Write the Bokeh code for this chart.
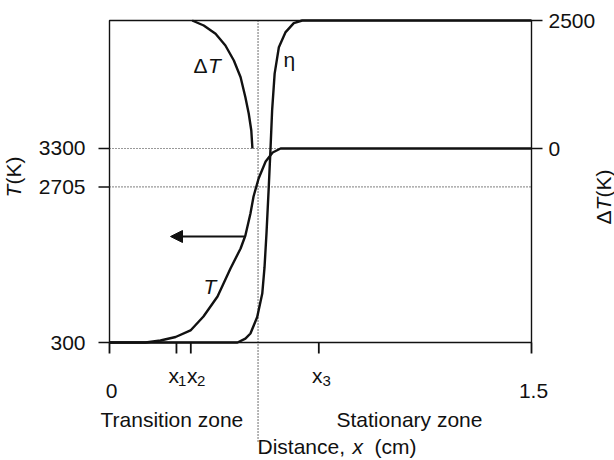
import numpy as np
from bokeh.plotting import figure
from bokeh.models import Range1d, Arrow, NormalHead, Label
from bokeh.embed import file_html
from bokeh.resources import INLINE

# ---- data -------------------------------------------------------------
# temperature profile T(x), K
x_T = [0.0, 0.128, 0.181, 0.235, 0.288, 0.334, 0.384, 0.430, 0.466, 0.483,
       0.501, 0.512, 0.530, 0.555, 0.580, 0.608, 0.643, 1.5]
T_K = [300, 300, 331, 385, 486, 702, 1011, 1444, 1754, 1955,
       2295, 2558, 2836, 3099, 3238, 3300, 3300, 3300]

# transformed fraction eta(x), 0..1
x_eta = [0.0, 0.455, 0.483, 0.501, 0.525, 0.543, 0.551, 0.558, 0.566, 0.572,
         0.578, 0.587, 0.602, 0.626, 0.655, 0.685, 1.5]
eta = [0.0, 0.0, 0.012, 0.028, 0.079, 0.152, 0.233, 0.339, 0.481, 0.596,
       0.720, 0.835, 0.917, 0.964, 0.992, 1.0, 1.0]

# undercooling dT(x), K
x_dT = [0.294, 0.335, 0.377, 0.412, 0.442, 0.466, 0.483, 0.495, 0.504, 0.508]
dT_K = [2500, 2402, 2240, 2012, 1719, 1393, 1002, 678, 352, 0]

# axis ticks
T_ticks = [300, 2705, 3300]
T_tick_labels = ["300", "2705", "3300"]
dT_ticks = [0, 2500]
dT_tick_labels = ["0", "2500"]
x_ticks = [0.0, 0.238, 0.289, 0.744, 1.5]        # 0, x1, x2, x3, 1.5
x_end_ticks = [0.0, 1.5]
x_end_labels = ["0", "1.5"]
x_front = 0.528                                   # zone boundary, cm
T_guides = [3300, 2705]

# ---- layout: the frame covers the whole canvas, the plot box sits inside
W, H = 614, 460
BOX_L, BOX_R, BOX_T, BOX_B = 109, 531, 20, 342   # plot box edges, px
X_LO, X_HI = 0.0, 1.5
T_LO, T_HI = 300.0, 5279.0
DT_LO, DT_HI = -3789.0, 2500.0
ETA_LO, ETA_HI = 0.0, 1.0


def full_range(lo, hi, a, b, total, flip=False):
    """Extend [lo, hi] (drawn between px a..b) to the whole canvas."""
    s = (hi - lo) / (b - a)
    if flip:   # vertical: px grows downwards
        return Range1d(lo - (total - b) * s, hi + a * s)
    return Range1d(lo - a * s, hi + (total - b) * s)


SX = (X_HI - X_LO) / (BOX_R - BOX_L)
SY = (T_HI - T_LO) / (BOX_B - BOX_T)


def cx(px):
    return X_LO + (px - BOX_L) * SX


def cy(py):
    return T_LO + (BOX_B - py) * SY


FONT = "Liberation Sans"
INK = "#111111"
FS = "21px"

p = figure(width=W, height=H, title=None, toolbar_location=None,
           output_backend="svg",
           x_range=full_range(X_LO, X_HI, BOX_L, BOX_R, W),
           y_range=full_range(T_LO, T_HI, BOX_T, BOX_B, H, flip=True),
           x_axis_location=None, y_axis_location=None,
           min_border=0, min_border_left=0, min_border_right=0,
           min_border_top=0, min_border_bottom=0)
p.extra_y_ranges = {
    "dT": full_range(DT_LO, DT_HI, BOX_T, BOX_B, H, flip=True),
    "eta": full_range(ETA_LO, ETA_HI, BOX_T, BOX_B, H, flip=True),
}
p.grid.visible = False
p.outline_line_color = None
p.background_fill_color = "white"
p.border_fill_color = "white"

TICK = 11  # px

# ---- axes: box, ticks ------------------------------------------------
p.quad(left=[X_LO], right=[X_HI], bottom=[T_LO], top=[T_HI],
       fill_color=None, line_color=INK, line_width=1.4)

# distance ticks (outward, below the box)
p.segment(x0=x_ticks, x1=x_ticks, y0=[T_LO] * len(x_ticks),
          y1=[T_LO - TICK * SY] * len(x_ticks),
          line_color=INK, line_width=1.8)
# temperature ticks (left)
p.segment(x0=[X_LO] * len(T_ticks), x1=[X_LO - TICK * SX] * len(T_ticks),
          y0=T_ticks, y1=T_ticks, line_color=INK, line_width=1.6)
# undercooling ticks (right)
p.segment(x0=[X_HI] * len(dT_ticks), x1=[X_HI + TICK * SX] * len(dT_ticks),
          y0=dT_ticks, y1=dT_ticks, y_range_name="dT",
          line_color=INK, line_width=1.4)

# ---- guide lines -------------------------------------------------------
p.segment(x0=[X_LO] * len(T_guides), x1=[X_HI] * len(T_guides),
          y0=T_guides, y1=T_guides, line_color="#333333",
          line_width=1.2, line_dash="1 2")
p.segment(x0=[x_front], x1=[x_front], y0=[T_HI], y1=[cy(442)],
          line_color="#222222", line_width=1.3, line_dash="1 2")

# ---- curves ------------------------------------------------------------
p.line(x_T, T_K, line_color=INK, line_width=2.4)
p.line(x_eta, eta, y_range_name="eta", line_color=INK, line_width=2.4)
p.line(x_dT, dT_K, y_range_name="dT", line_color=INK, line_width=2.4)

p.add_layout(Arrow(end=NormalHead(size=12, fill_color=INK, line_color=INK),
                   x_start=cx(243.5), y_start=cy(236),
                   x_end=cx(170), y_end=cy(236),
                   line_color=INK, line_width=2))


# ---- text --------------------------------------------------------------
def lab(text, x, y, size=FS, style="normal", align="left", angle=0.0,
        y_range_name="default"):
    p.add_layout(Label(x=x, y=y, text=text, text_font=FONT,
                       text_font_size=size, text_font_style=style,
                       text_color=INK, text_align=align,
                       text_baseline="middle", angle=angle,
                       y_range_name=y_range_name))


# tick labels
for t, s in zip(T_ticks, T_tick_labels):
    lab(s, cx(85), t, align="right")
for t, s in zip(dT_ticks, dT_tick_labels):
    lab(s, cx(548), t, y_range_name="dT")
for t, s in zip(x_end_ticks, x_end_labels):
    lab(s, t + 2 * SX, cy(390.5), align="center")

# x1, x2, x3 marks
for xl, sub, xs in [(168, "1", 177.5), (186.5, "2", 196.5), (311.5, "3", 322)]:
    lab("x", cx(xl), cy(374.5))
    lab(sub, cx(xs), cy(380.5), size="15px")

# curve names
lab("\u0394", cx(193), cy(64.5))
lab("T", cx(207.5), cy(64.5), style="italic")
lab("\u03b7", cx(283), cy(58.5))
lab("T", cx(203), cy(285.5), style="italic")

# axis titles (rotated, reading upwards)
lab("T", cx(13), cy(197), style="italic", angle=np.pi / 2)
lab("(K)", cx(13), cy(184), angle=np.pi / 2)
lab("\u0394", cx(603), cy(224), angle=np.pi / 2)
lab("T", cx(603), cy(210), style="italic", angle=np.pi / 2)
lab("(K)", cx(603), cy(197), angle=np.pi / 2)

# zone names and distance title
lab("Transition zone", cx(100), cy(418.5))
lab("Stationary zone", cx(336), cy(418.5))
lab("Distance, ", cx(257), cy(445.5))
lab("x", cx(352), cy(445.5), style="italic")
lab("(cm)", cx(374), cy(445.5))

open("out.html", "w").write(file_html(p, INLINE))
